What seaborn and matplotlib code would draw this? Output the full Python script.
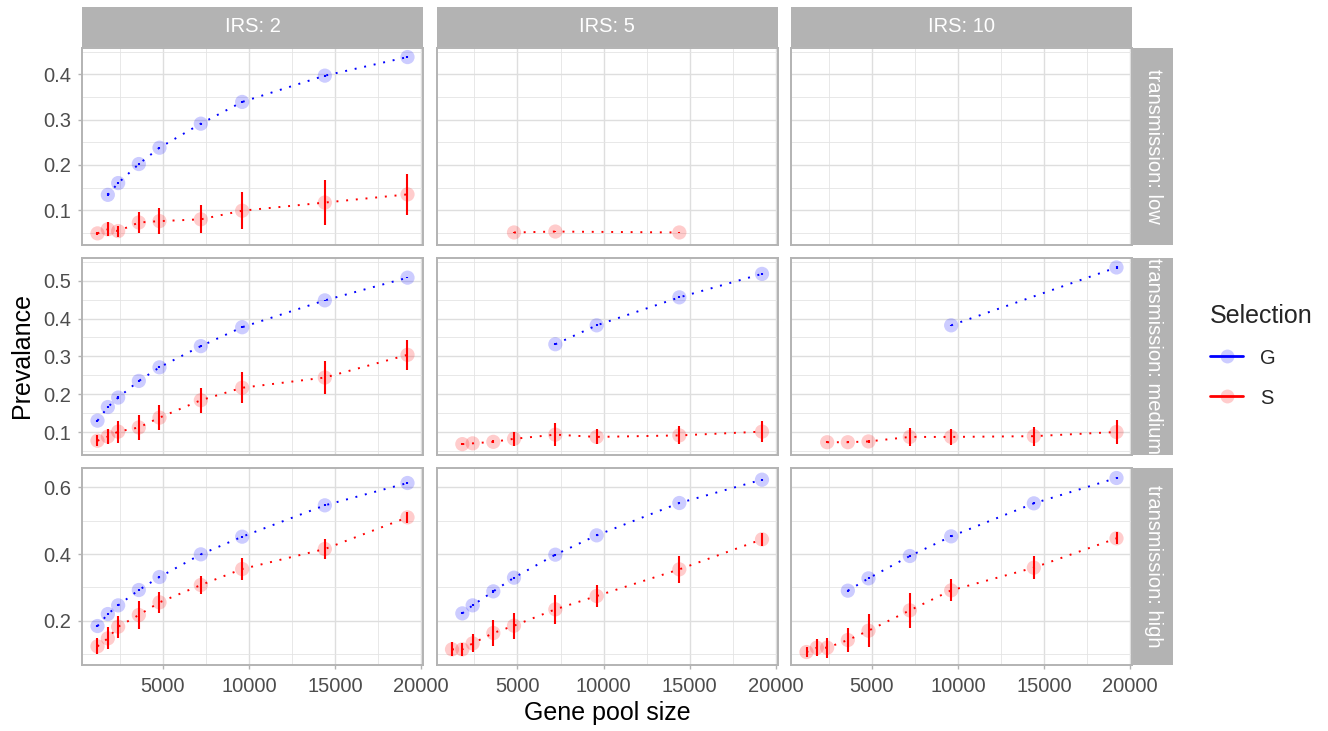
import numpy as np
import pandas as pd
import matplotlib
matplotlib.use('Agg')
import matplotlib.pyplot as plt
import matplotlib.ticker as mticker
from matplotlib.lines import Line2D
from matplotlib.colors import to_rgba
import seaborn as sns

nan = np.nan

# x values shared by every panel
gene_pool = [1200, 1800, 2400, 3600, 4800, 7200, 9600, 14400, 19200]
irs_levels = [2, 5, 10]
transmission_levels = ['low', 'medium', 'high']
selection_levels = ['G', 'S']

# transmission: low
g_low_2 = [nan, 0.134, 0.160, 0.202, 0.238, 0.291, 0.339, 0.397, 0.438]
g_low_2_err = [nan, 0.003, 0.003, 0.003, 0.002, 0.002, 0.002, 0.002, 0.002]
s_low_2 = [0.049, 0.058, 0.054, 0.073, 0.076, 0.080, 0.099, 0.117, 0.135]
s_low_2_err = [0.004, 0.015, 0.012, 0.024, 0.028, 0.031, 0.041, 0.050, 0.045]
g_low_5 = [nan] * 9
g_low_5_err = [nan] * 9
s_low_5 = [nan, nan, nan, nan, 0.051, 0.053, nan, 0.051, nan]
s_low_5_err = [nan, nan, nan, nan, 0.001, 0.001, nan, 0.001, nan]
g_low_10 = [nan] * 9
g_low_10_err = [nan] * 9
s_low_10 = [nan] * 9
s_low_10_err = [nan] * 9

# transmission: medium
g_med_2 = [0.130, 0.166, 0.191, 0.235, 0.271, 0.327, 0.377, 0.448, 0.508]
g_med_2_err = [0.003, 0.003, 0.003, 0.003, 0.003, 0.002, 0.002, 0.002, 0.002]
s_med_2 = [0.077, 0.088, 0.101, 0.112, 0.138, 0.184, 0.217, 0.244, 0.304]
s_med_2_err = [0.015, 0.020, 0.029, 0.034, 0.033, 0.033, 0.041, 0.043, 0.040]
g_med_5 = [nan, nan, nan, nan, nan, 0.332, 0.382, 0.456, 0.518]
g_med_5_err = [nan, nan, nan, nan, nan, 0.002, 0.003, 0.003, 0.003]
s_med_5 = [nan, 0.068, 0.070, 0.074, 0.082, 0.093, 0.087, 0.091, 0.101]
s_med_5_err = [nan, 0.002, 0.002, 0.004, 0.018, 0.030, 0.020, 0.024, 0.028]
g_med_10 = [nan, nan, nan, nan, nan, nan, 0.382, nan, 0.535]
g_med_10_err = [nan, nan, nan, nan, nan, nan, 0.002, nan, 0.003]
s_med_10 = [nan, nan, 0.073, 0.073, 0.075, 0.087, 0.087, 0.089, 0.100]
s_med_10_err = [nan, nan, 0.002, 0.002, 0.005, 0.023, 0.021, 0.025, 0.032]

# transmission: high
g_high_2 = [0.184, 0.220, 0.246, 0.292, 0.331, 0.399, 0.452, 0.546, 0.613]
g_high_2_err = [0.003, 0.003, 0.003, 0.003, 0.003, 0.002, 0.003, 0.003, 0.003]
s_high_2 = [0.123, 0.147, 0.182, 0.217, 0.255, 0.307, 0.355, 0.415, 0.510]
s_high_2_err = [0.024, 0.033, 0.033, 0.042, 0.031, 0.027, 0.032, 0.029, 0.016]
g_high_5 = [nan, 0.222, 0.246, 0.288, 0.329, 0.398, 0.456, 0.553, 0.623]
g_high_5_err = [nan, 0.003, 0.003, 0.004, 0.003, 0.003, 0.003, 0.003, 0.003]
s_high_5 = [0.114, 0.114, 0.132, 0.163, 0.185, 0.234, 0.274, 0.354, 0.444]
s_high_5_err = [0.021, 0.019, 0.027, 0.038, 0.039, 0.044, 0.034, 0.041, 0.020]
g_high_10 = [nan, nan, nan, 0.290, 0.327, 0.394, 0.453, 0.552, 0.628]
g_high_10_err = [nan, nan, nan, 0.003, 0.003, 0.003, 0.003, 0.003, 0.003]
s_high_10 = [0.106, 0.119, 0.119, 0.142, 0.170, 0.231, 0.291, 0.359, 0.447]
s_high_10_err = [0.015, 0.025, 0.030, 0.035, 0.050, 0.052, 0.033, 0.035, 0.018]

# y range of each row (free y per row)
row_ylims = [(0.024, 0.458), (0.040, 0.560), (0.068, 0.658)]
row_ystep = [0.1, 0.1, 0.2]

palette = {'G': '#0000FF', 'S': '#FF0000'}

W, H = 1328, 731


def load_data():
    series = [
        ('low', 2, 'G', g_low_2, g_low_2_err), ('low', 2, 'S', s_low_2, s_low_2_err),
        ('low', 5, 'G', g_low_5, g_low_5_err), ('low', 5, 'S', s_low_5, s_low_5_err),
        ('low', 10, 'G', g_low_10, g_low_10_err), ('low', 10, 'S', s_low_10, s_low_10_err),
        ('medium', 2, 'G', g_med_2, g_med_2_err), ('medium', 2, 'S', s_med_2, s_med_2_err),
        ('medium', 5, 'G', g_med_5, g_med_5_err), ('medium', 5, 'S', s_med_5, s_med_5_err),
        ('medium', 10, 'G', g_med_10, g_med_10_err), ('medium', 10, 'S', s_med_10, s_med_10_err),
        ('high', 2, 'G', g_high_2, g_high_2_err), ('high', 2, 'S', s_high_2, s_high_2_err),
        ('high', 5, 'G', g_high_5, g_high_5_err), ('high', 5, 'S', s_high_5, s_high_5_err),
        ('high', 10, 'G', g_high_10, g_high_10_err), ('high', 10, 'S', s_high_10, s_high_10_err),
    ]
    frames = []
    for trans, irs, sel, vals, errs in series:
        frames.append(pd.DataFrame({'transmission': trans, 'irs': irs,
                                    'selection': sel, 'gene_pool': gene_pool,
                                    'prevalence': vals, 'err': errs}))
    data = pd.concat(frames, ignore_index=True)
    return data.dropna(subset=['prevalence'])


def px_axes(fig, left, top, width, height):
    return fig.add_axes([left / W, 1 - (top + height) / H, width / W, height / H])


def add_strip(fig, rect, text, rotation):
    sax = px_axes(fig, *rect)
    sax.set_facecolor('#B3B3B3')
    sax.set_xticks([])
    sax.set_yticks([])
    for sp in sax.spines.values():
        sp.set_visible(False)
    sax.text(0.5, 0.5, text, rotation=rotation, color='white', fontsize=14.5,
             ha='center', va='center', transform=sax.transAxes, clip_on=True)


def plot_panels(data):
    fig = plt.figure(figsize=(W / 100, H / 100), dpi=100)
    col_left = [82, 436.5, 791]
    col_w = 341
    row_top = [48, 258, 468]
    row_h = 196.7

    for r, trans in enumerate(transmission_levels):
        for c, irs in enumerate(irs_levels):
            ax = px_axes(fig, col_left[c], row_top[r], col_w, row_h)
            sub = data[(data['transmission'] == trans) & (data['irs'] == irs)]
            if len(sub):
                sns.scatterplot(data=sub, x='gene_pool', y='prevalence',
                                hue='selection', palette=palette, s=105,
                                alpha=0.2, linewidth=0, legend=False,
                                ax=ax, zorder=2)
                sns.lineplot(data=sub, x='gene_pool', y='prevalence',
                             hue='selection', palette=palette,
                             estimator=None, errorbar=None, legend=False,
                             lw=1.4, linestyle=(0, (1, 4)),
                             dash_capstyle='butt', ax=ax, zorder=3)
                for sel, grp in sub.groupby('selection'):
                    ax.vlines(grp['gene_pool'], grp['prevalence'] - grp['err'],
                              grp['prevalence'] + grp['err'],
                              color=palette[sel], lw=1.5, zorder=4)

            ax.set_xlim(300, 20100)
            ax.set_ylim(*row_ylims[r])
            ax.xaxis.set_major_locator(mticker.MultipleLocator(5000))
            ax.xaxis.set_minor_locator(mticker.MultipleLocator(2500))
            ax.yaxis.set_major_locator(mticker.MultipleLocator(row_ystep[r]))
            ax.yaxis.set_minor_locator(mticker.MultipleLocator(row_ystep[r] / 2))
            ax.yaxis.set_major_formatter(mticker.FormatStrFormatter('%.1f'))
            ax.grid(which='major', color='#DEDEDE', lw=1.0)
            ax.grid(which='minor', color='#E4E4E4', lw=0.6)
            ax.set_axisbelow(True)
            for sp in ax.spines.values():
                sp.set_color('#B3B3B3')
                sp.set_linewidth(1.4)
            ax.set_xlabel('')
            ax.set_ylabel('')
            ax.tick_params(which='minor', length=0)
            ax.tick_params(axis='x', which='major', length=3, width=1,
                           color='#B3B3B3', pad=5.5, labelsize=14.5,
                           labelcolor='#4D4D4D', bottom=(r == 2),
                           labelbottom=(r == 2))
            ax.tick_params(axis='y', which='major', length=3, width=1,
                           color='#B3B3B3', pad=5, labelsize=14.5,
                           labelcolor='#4D4D4D', left=(c == 0),
                           labelleft=(c == 0))

            if r == 0:
                add_strip(fig, (col_left[c], 6.7, col_w, 40), 'IRS: %d' % irs, 0)
            if c == 2:
                add_strip(fig, (1133, row_top[r], 40, row_h),
                          'transmission: %s' % trans, 270)

    fig.text(607 / W, 1 - 713 / H, 'Gene pool size', ha='center', va='center',
             fontsize=18, color='black')
    fig.text(22 / W, 1 - 356 / H, 'Prevalance', ha='center', va='center',
             rotation=90, fontsize=18, color='black')

    handles = [Line2D([], [], color=palette[s], lw=2, marker='o',
                      markersize=10,
                      markerfacecolor=to_rgba(palette[s], 0.2),
                      markeredgewidth=0) for s in selection_levels]
    fig.legend(handles, selection_levels, title='Selection', loc='upper left',
               bbox_to_anchor=(1200 / W, 1 - 294 / H), frameon=False,
               fontsize=14.5, title_fontsize=18, handlelength=1.65,
               handleheight=1.0, handletextpad=0.85, labelspacing=1.0,
               alignment='left', borderpad=0)

    fig.savefig('out.png', dpi=100)


if __name__ == '__main__':
    sns.set_style('white')
    plt.rcParams['font.family'] = ['Liberation Sans', 'DejaVu Sans']
    data = load_data()
    plot_panels(data)
